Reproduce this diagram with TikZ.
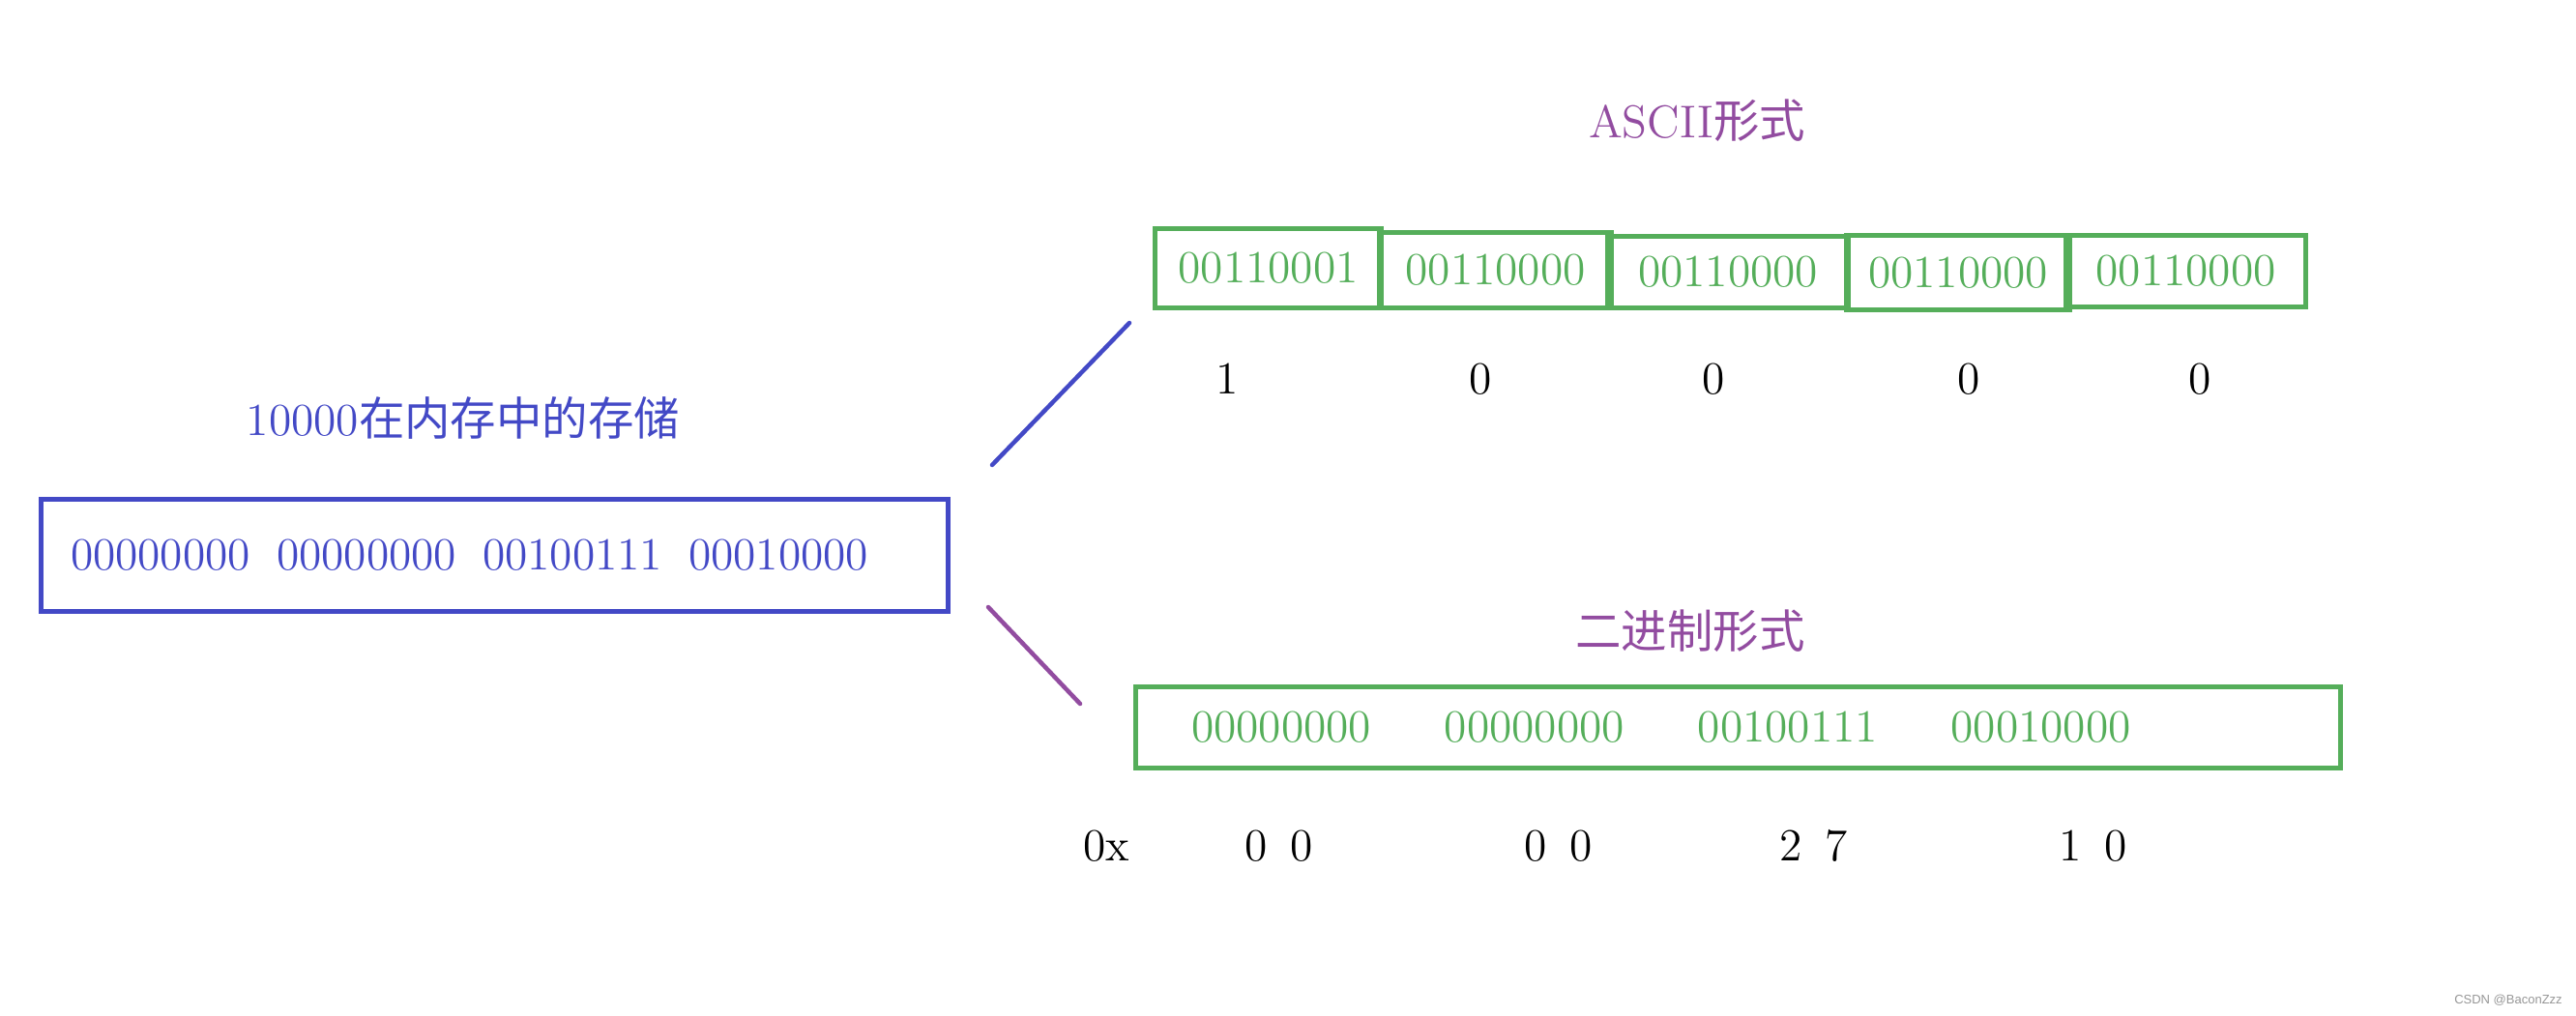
\documentclass[tikz,border=0pt]{standalone}
\usepackage{fontspec}
\newfontfamily\cjk{Noto Sans CJK SC}
\newfontfamily\wmfont{Liberation Sans}
\definecolor{memblue}{RGB}{67,73,198}
\definecolor{asciigreen}{RGB}{85,174,90}
\definecolor{formpurple}{RGB}{146,76,160}
\definecolor{wmgray}{RGB}{150,150,150}

\begin{document}
\begin{tikzpicture}[
    every node/.style={font=\fontsize{13.5}{16}\selectfont},
    membox/.style={draw=memblue, line width=0.05cm, text=memblue, inner sep=0pt},
    bytebox/.style={draw=asciigreen, line width=0.05cm, text=asciigreen, inner sep=0pt},
    formlabel/.style={text=formpurple},
    connline/.style={line width=0.045cm, line cap=round}
]
    \useasboundingbox (0,0) rectangle (26.64,-10.50);

    % Valor en memoria
    \node[text=memblue] (memtitle) at (4.79,-4.32) {10000{\cjk 在内存中的存储}};
    \node[membox, minimum height=1.16cm, text width=8.77cm, inner xsep=0.305cm, align=left] (mem) at (5.115,-5.745)
        {00000000\hspace{0.57em}00000000\hspace{0.57em}00100111\hspace{0.57em}00010000};

    % Forma ASCII
    \node[formlabel] (asciititle) at (17.55,-1.25) {ASCII{\cjk 形式}};
    \node[bytebox, minimum width=2.34cm, minimum height=0.82cm] (b1) at (13.115,-2.775) {00110001};
    \node[bytebox, minimum width=2.40cm, minimum height=0.78cm] (b2) at (15.465,-2.795) {00110000};
    \node[bytebox, minimum width=2.49cm, minimum height=0.74cm] (b3) at (17.87,-2.815) {00110000};
    \node[bytebox, minimum width=2.31cm, minimum height=0.77cm] (b4) at (20.25,-2.82) {00110000};
    \node[bytebox, minimum width=2.48cm, minimum height=0.74cm] (b5) at (22.605,-2.805) {00110000};

    % Caracteres
    \node (c1) at (12.69,-3.92) {1};
    \node (c2) at (15.31,-3.92) {0};
    \node (c3) at (17.72,-3.92) {0};
    \node (c4) at (20.36,-3.92) {0};
    \node (c5) at (22.75,-3.92) {0};

    % Forma binaria
    \node[formlabel] (bintitle) at (17.48,-6.53) {\cjk 二进制形式};
    \node[bytebox, minimum height=0.84cm, text width=11.31cm, inner xsep=0.575cm, align=left] (bin) at (17.975,-7.525)
        {00000000\hspace{1.6em}00000000\hspace{1.6em}00100111\hspace{1.6em}00010000};

    % Hexadecimal
    \node (hx) at (11.44,-8.75) {0x};
    \node (h1) at (13.23,-8.75) {0\hspace{0.5em}0};
    \node (h2) at (16.12,-8.75) {0\hspace{0.5em}0};
    \node (h3) at (18.76,-8.75) {2\hspace{0.5em}7};
    \node (h4) at (21.65,-8.75) {1\hspace{0.5em}0};

    % Trazos
    \coordinate (asciifrom) at (10.26,-4.81);
    \coordinate (asciito) at (11.68,-3.34);
    \draw[connline, memblue] (asciifrom) -- (asciito);
    \coordinate (binfrom) at (10.22,-6.28);
    \coordinate (binto) at (11.17,-7.28);
    \draw[connline, formpurple] (binfrom) -- (binto);

    % Marca de agua
    \node[font=\wmfont\fontsize{3.7}{4}\selectfont, text=wmgray] (mark) at (25.94,-10.35) {CSDN @BaconZzz};
\end{tikzpicture}
\end{document}
